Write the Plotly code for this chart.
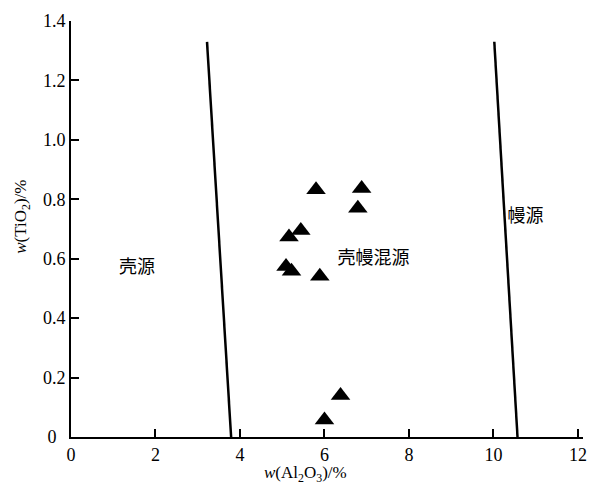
import plotly.graph_objects as go

# Sample data: Al2O3 (%) vs TiO2 (%)
al2o3 = [5.80, 6.88, 6.79, 5.44, 5.16, 5.09, 5.22, 5.89, 6.38, 6.00]
tio2 = [0.832, 0.836, 0.770, 0.695, 0.673, 0.574, 0.558, 0.541, 0.140, 0.057]

# Boundary lines
crust_line_x = [3.22, 3.79]
crust_line_y = [1.33, 0.0]
mantle_line_x = [10.02, 10.57]
mantle_line_y = [1.33, 0.0]

# Field labels
field_labels = ["壳源", "壳幔混源", "幔源"]
field_x = [1.56, 7.16, 10.76]
field_y = [0.566, 0.599, 0.738]

x_ticks = [0, 2, 4, 6, 8, 10, 12]
y_ticks = [0, 0.2, 0.4, 0.6, 0.8, 1.0, 1.2, 1.4]
y_ticktext = ["0\u00a0\u00a0", "0.2", "0.4", "0.6", "0.8", "1.0", "1.2", "1.4"]

FONT = "Liberation Serif, Times New Roman, serif"
CJK = "Noto Sans CJK SC"

fig = go.Figure()
for lx, ly in [(crust_line_x, crust_line_y), (mantle_line_x, mantle_line_y)]:
    fig.add_trace(go.Scatter(x=lx, y=ly, mode="lines",
                             line=dict(color="black", width=2.5),
                             showlegend=False, hoverinfo="skip"))

fig.add_trace(go.Scatter(x=al2o3, y=tio2, mode="markers",
                         marker=dict(symbol="triangle-up", size=17, color="black"),
                         showlegend=False))

fig.add_trace(go.Scatter(x=field_x, y=field_y, mode="text", text=field_labels,
                         textfont=dict(family=CJK, size=18, color="black"),
                         showlegend=False, hoverinfo="skip"))

# Axis titles as annotations for exact placement
fig.add_annotation(text="<i>w</i>(Al<sub>2</sub>O<sub>3</sub>)/%",
                   xref="x", x=5.54, yref="paper", y=0, yanchor="top", yshift=-24,
                   showarrow=False, font=dict(family=FONT, size=17, color="black"))
fig.add_annotation(text="<i>w</i>(TiO<sub>2</sub>)/%", textangle=-90,
                   xref="paper", x=0, xanchor="center", xshift=-49,
                   yref="y", y=0.741, showarrow=False,
                   font=dict(family=FONT, size=17, color="black"))

fig.update_layout(
    width=602, height=491,
    margin=dict(l=71, r=19, t=11, b=54),
    plot_bgcolor="white", paper_bgcolor="white",
    font=dict(family=FONT, size=18, color="black"),
    xaxis=dict(range=[0, 12.12], tickvals=x_ticks, ticks="inside", ticklen=8,
               tickwidth=1.5, tickcolor="black", showline=True, linecolor="black",
               linewidth=2, showgrid=False, zeroline=False,
               tickfont=dict(family=FONT, size=18)),
    yaxis=dict(range=[0, 1.4], tickvals=y_ticks, ticktext=y_ticktext, ticks="inside",
               ticklen=8, tickwidth=1.5, tickcolor="black", showline=True,
               linecolor="black", linewidth=2, showgrid=False, zeroline=False,
               tickfont=dict(family=FONT, size=18)),
)

fig.write_html("out.html")
